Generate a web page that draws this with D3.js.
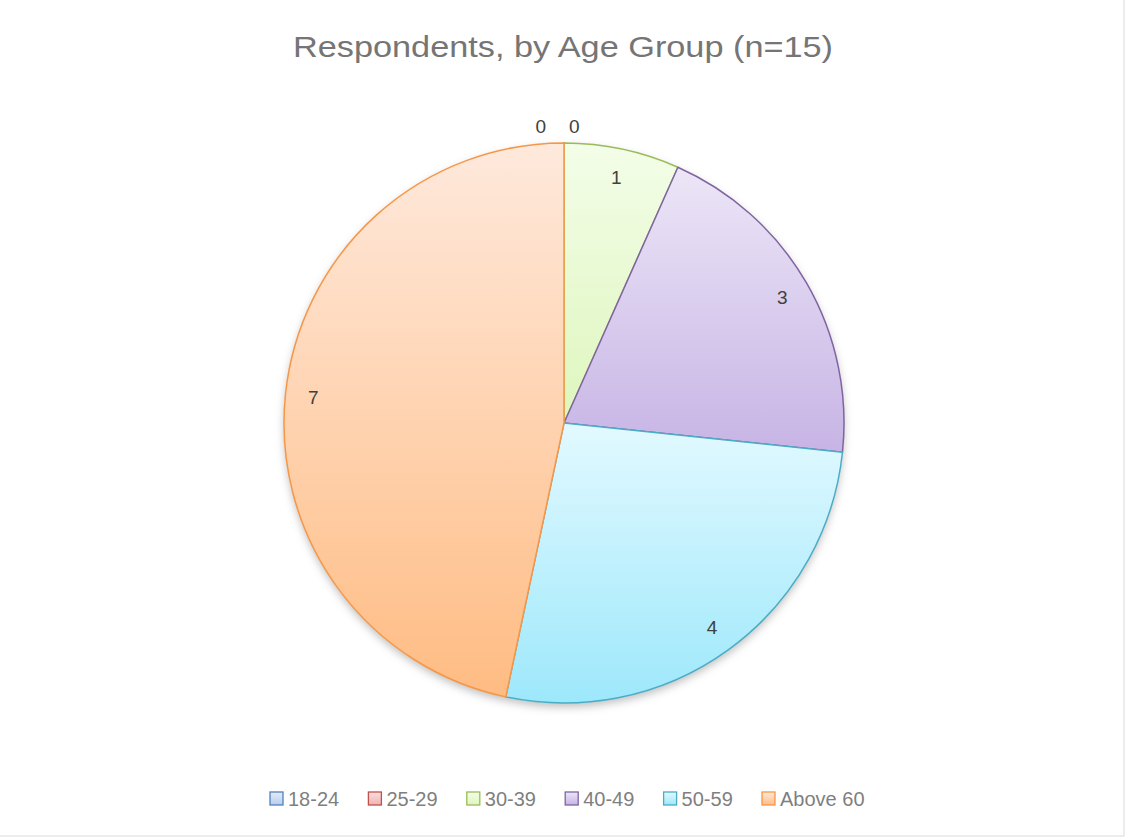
<!DOCTYPE html>
<html>
<head>
<meta charset="utf-8">
<script src="https://cdn.jsdelivr.net/npm/d3@7"></script>
<style>
  html, body { margin: 0; padding: 0; background: #fff; }
  svg { display: block; font-family: "Liberation Sans", Arial, sans-serif; }
</style>
</head>
<body>
<svg id="chart"></svg>
<script>
const categories = ["18-24", "25-29", "30-39", "40-49", "50-59", "Above 60"];
const counts = [0, 0, 1, 3, 4, 7];
const strokeColors = ["#4f81bd", "#c0504d", "#9bbb59", "#8064a2", "#4bacc6", "#f79646"];
const fillTop = ["#e3ebf8", "#f9dfde", "#f3fde8", "#ece6f7", "#e2f9ff", "#fee9dc"];
const fillBottom = ["#b9cdee", "#efb3b1", "#def6bd", "#c7b4e5", "#9de8fb", "#ffbc83"];

const width = 1126, height = 838;
const cx = 564, cy = 423, R = 280;

const svg = d3.select("#chart").attr("width", width).attr("height", height);
const defs = svg.append("defs");

const shadow = defs.append("filter").attr("id", "shadow")
  .attr("x", "-10%").attr("y", "-10%").attr("width", "120%").attr("height", "125%");
shadow.append("feDropShadow").attr("dx", 0).attr("dy", 4).attr("stdDeviation", 4)
  .attr("flood-color", "#000").attr("flood-opacity", 0.25);

categories.forEach((c, i) => {
  const g = defs.append("linearGradient").attr("id", "grad" + i)
    .attr("x1", 0).attr("y1", 0).attr("x2", 0).attr("y2", 1);
  g.append("stop").attr("offset", "0%").attr("stop-color", fillTop[i]);
  g.append("stop").attr("offset", "100%").attr("stop-color", fillBottom[i]);
});

// chart border (only right/bottom visible in reference)
svg.append("rect").attr("x", -1).attr("y", -1).attr("width", 1125).attr("height", 837)
  .attr("fill", "none").attr("stroke", "#d9d9d9").attr("stroke-width", 1);

svg.append("text").attr("x", 563).attr("y", 57).attr("text-anchor", "middle")
  .attr("font-size", 30).attr("fill", "#757575")
  .attr("textLength", 540).attr("lengthAdjust", "spacingAndGlyphs")
  .text("Respondents, by Age Group (n=15)");

const pie = d3.pie().sort(null).value(d => d)(counts);
const arc = d3.arc().innerRadius(0).outerRadius(R);
const labelArc = d3.arc().innerRadius(R * 0.9).outerRadius(R * 0.9);

const gPie = svg.append("g").attr("transform", `translate(${cx},${cy})`);
gPie.append("circle").attr("r", R).attr("fill", "#fff").attr("filter", "url(#shadow)");

gPie.selectAll("path").data(pie).enter().append("path")
  .attr("d", arc)
  .attr("fill", (d, i) => `url(#grad${i})`)
  .attr("stroke", (d, i) => strokeColors[i])
  .attr("stroke-width", 1.5)
  .attr("stroke-linejoin", "round");

let zeroIdx = 0;
gPie.selectAll("text.lbl").data(pie).enter().append("text")
  .attr("class", "lbl")
  .attr("font-size", 19).attr("fill", "#404040")
  .each(function(d) {
    const t = d3.select(this);
    if (d.data === 0) {
      const [x, y] = d3.arc().innerRadius(R + 12).outerRadius(R + 12).centroid(d);
      if (zeroIdx === 0) t.attr("x", x - 18).attr("text-anchor", "end");
      else t.attr("x", x + 5).attr("text-anchor", "start");
      t.attr("y", y + 2);
      zeroIdx++;
    } else {
      const [x, y] = labelArc.centroid(d);
      t.attr("x", x).attr("y", y + 7).attr("text-anchor", "middle");
    }
  })
  .text(d => d.data);

const legendX = d3.scalePoint().domain(categories).range([270, 762]);
const legend = svg.append("g").selectAll("g").data(categories).enter().append("g")
  .attr("transform", d => `translate(${legendX(d)},792)`);
legend.append("rect").attr("width", 13).attr("height", 13)
  .attr("fill", (d, i) => `url(#grad${i})`)
  .attr("stroke", (d, i) => strokeColors[i]).attr("stroke-width", 1.3);
legend.append("text").attr("x", 18).attr("y", 14)
  .attr("font-size", 20).attr("fill", "#7f7f7f").text(d => d);
</script>
</body>
</html>
